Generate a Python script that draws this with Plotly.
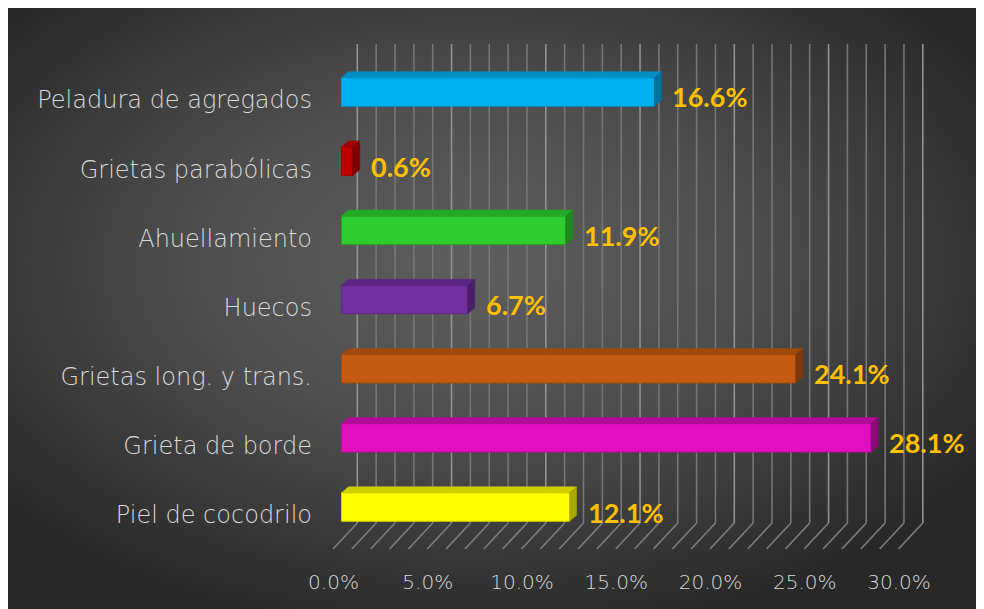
import base64
import plotly.graph_objects as go

# ---------------- data ----------------
categories = ["Piel de cocodrilo", "Grieta de borde", "Grietas long. y trans.",
              "Huecos", "Ahuellamiento", "Grietas parabólicas", "Peladura de agregados"]
values = [12.1, 28.1, 24.1, 6.7, 11.9, 0.6, 16.6]
front_colors = ["#FFFF00", "#E010C0", "#C55A11", "#7030A0", "#2ECC2E", "#C00000", "#00B0F0"]
top_colors = ["#CFCF00", "#B00C98", "#A04A0E", "#5C2784", "#25A825", "#A00000", "#0090C6"]
side_colors = ["#A8A800", "#8A0A78", "#7F3A0B", "#4A1F6A", "#1E8A1E", "#800000", "#0072A0"]
edge_colors = ["#D4D400", "#B80C9C", "#A84C0E", "#5E2888", "#22A022", "#A00000", "#0098D0"]
x_ticks = [0, 5, 10, 15, 20, 25, 30]
x_ticklabels = ["0.0%", "5.0%", "10.0%", "15.0%", "20.0%", "25.0%", "30.0%"]
grid_values = list(range(0, 31))

# ---------------- geometry (figure pixels) ----------------
W, H = 984, 609
L, R, T, B = 305, 24, 22, 49           # plot area margins
PX_PER_PCT = 18.85
X0_PX = 333.5                          # pixel of 0 % (bar front face)
WALL_DX = 15.8                         # back wall offset (px)
FRONT_DX = -8.5                        # floor front offset (px)
ROW_PX = 69.17
Y0_PX = 499                            # pixel of first category centre
WALL_TOP_PX, WALL_BOT_PX, FLOOR_FRONT_PX = 36, 515, 541
plot_w = W - L - R
plot_h = H - T - B

xr = [(L - X0_PX) / PX_PER_PCT, (W - R - X0_PX) / PX_PER_PCT]
yr = [(Y0_PX - (H - B)) / ROW_PX, (Y0_PX - T) / ROW_PX]
wall_off = WALL_DX / PX_PER_PCT
front_off = FRONT_DX / PX_PER_PCT


def py2paper(p):
    return ((H - B) - p) / plot_h


def px2paper(p):
    return (p - L) / plot_w


bar_w = 28.5 / ROW_PX
dx = 7 / PX_PER_PCT
dy = 6 / ROW_PX

fig = go.Figure()

# bars (front faces)
idx = list(range(len(categories)))
fig.add_trace(go.Bar(
    x=values, y=idx, orientation="h", width=bar_w,
    marker=dict(color=front_colors, line=dict(color=edge_colors, width=1)),
    hoverinfo="skip", showlegend=False,
))

# 3D faces
for i, v in enumerate(values):
    yt = i + bar_w / 2
    yb = i - bar_w / 2
    fig.add_trace(go.Scatter(
        x=[0, dx, v + dx, v, 0], y=[yt, yt + dy, yt + dy, yt, yt],
        fill="toself", fillcolor=top_colors[i], mode="lines",
        line=dict(color=top_colors[i], width=0.5), hoverinfo="skip", showlegend=False))
    fig.add_trace(go.Scatter(
        x=[v, v + dx, v + dx, v, v], y=[yt, yt + dy, yb + dy, yb, yt],
        fill="toself", fillcolor=side_colors[i], mode="lines",
        line=dict(color=side_colors[i], width=0.5), hoverinfo="skip", showlegend=False))

# value labels
for i, v in enumerate(values):
    fig.add_annotation(x=v, y=i, xref="x", yref="y", text=f"<b>{v:.1f}%</b>",
                       showarrow=False, xanchor="left", yanchor="middle",
                       xshift=16, yshift=-5,
                       font=dict(family="Lato", size=27, color="#FFC000"))

# back wall gridlines and floor diagonals
shapes = []
for v in grid_values:
    col = "#929292" if v % 5 == 0 else "#767676"
    shapes.append(dict(type="line", xref="x", yref="paper",
                       x0=v + wall_off, y0=py2paper(WALL_BOT_PX),
                       x1=v + wall_off, y1=py2paper(WALL_TOP_PX),
                       line=dict(color=col, width=1.6), layer="below"))
    shapes.append(dict(type="line", xref="x", yref="paper",
                       x0=v + wall_off, y0=py2paper(WALL_BOT_PX),
                       x1=v + front_off, y1=py2paper(FLOOR_FRONT_PX),
                       line=dict(color="#7e7e7e", width=1.6), layer="below"))

# background gradient
svg = ("<svg xmlns='http://www.w3.org/2000/svg' width='984' height='609' viewBox='0 0 984 609' "
       "preserveAspectRatio='none'><defs><radialGradient id='g' cx='0.47' cy='0.42' r='0.62'>"
       "<stop offset='0' stop-color='#5e5e5e'/><stop offset='0.45' stop-color='#4e4e4e'/>"
       "<stop offset='1' stop-color='#282828'/></radialGradient></defs>"
       "<rect width='984' height='609' fill='url(#g)'/></svg>")
src = "data:image/svg+xml;base64," + base64.b64encode(svg.encode()).decode()

label_font = dict(family="DejaVu Sans", size=24, color="#D9D9D9", weight=300)
tick_font = dict(family="DejaVu Sans", size=20, color="#D9D9D9", weight=300)

fig.update_layout(
    width=W, height=H,
    margin=dict(l=L, r=R, t=T, b=B),
    paper_bgcolor="#2a2a2a", plot_bgcolor="rgba(0,0,0,0)",
    showlegend=False,
    shapes=shapes,
    images=[dict(source=src, xref="paper", yref="paper",
                 x=px2paper(0), y=py2paper(0),
                 sizex=W / plot_w, sizey=H / plot_h,
                 xanchor="left", yanchor="top", sizing="stretch", layer="below")],
    xaxis=dict(range=xr, tickvals=x_ticks, ticktext=x_ticklabels,
               showgrid=False, zeroline=False, showline=False, ticks="",
               ticklabelshift=-8, ticklabelstandoff=0,
               tickfont=tick_font),
    yaxis=dict(range=yr, tickvals=idx, ticktext=categories,
               showgrid=False, zeroline=False, showline=False, ticks="",
               ticklabelshift=8,
               tickfont=label_font),
)

fig.write_html("out.html")
